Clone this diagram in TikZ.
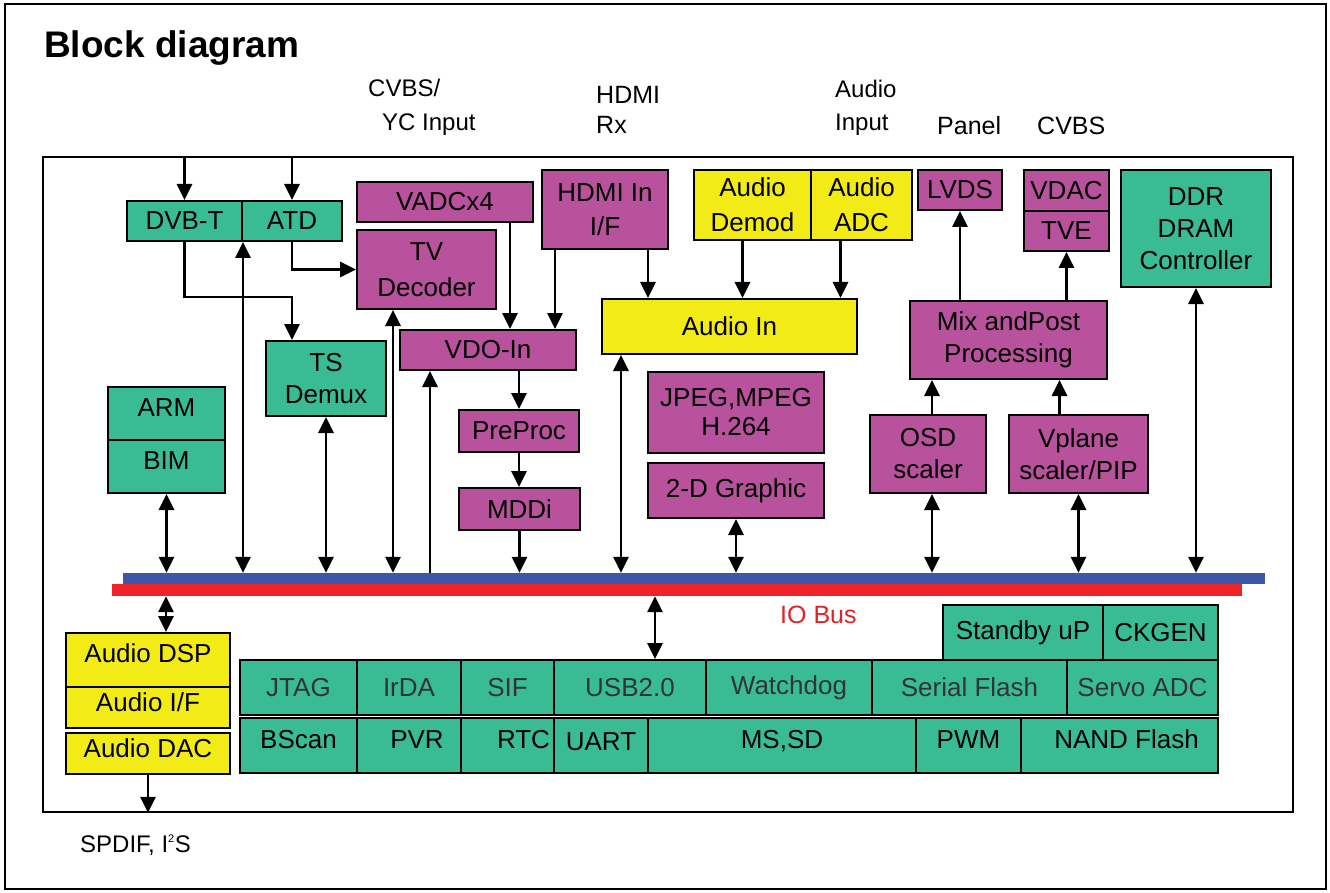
\documentclass[tikz,border=0pt]{standalone}
\usepackage{fontspec}
\setmainfont{Liberation Sans}
\usetikzlibrary{arrows.meta,positioning,calc}
\definecolor{tvgreen}{RGB}{57,188,148}
\definecolor{tvpurple}{RGB}{185,82,156}
\definecolor{tvyellow}{RGB}{242,235,22}
\definecolor{busblue}{RGB}{59,87,165}
\definecolor{busred}{RGB}{238,35,39}

\begin{document}
\begin{tikzpicture}[x=1pt, y=-1pt,
    blk/.style={draw, line width=2pt, inner sep=0pt, align=center,
                font=\fontsize{26}{32}\selectfont},
    sz/.style 2 args={minimum width=#1, minimum height=#2},
    gblk/.style={blk, fill=tvgreen},
    pblk/.style={blk, fill=tvpurple},
    yblk/.style={blk, fill=tvyellow},
    raised/.style={text height=19pt, text depth=14pt},
    grey/.style={text=black!80},
    lbl/.style={inner sep=0pt, anchor=base west, font=\fontsize{24}{28}\selectfont},
    arr/.style={-{Triangle[length=16pt, width=15pt]}, line width=2.8pt},
    biarr/.style={{Triangle[length=16pt, width=15pt]}-{Triangle[length=16pt, width=15pt]}, line width=2.8pt}
  ]
    \useasboundingbox (0,0) rectangle (1330,893);
    \draw[line width=1.5pt] (5,4) rectangle (1326,889);

    % Title and outside labels
    \node[inner sep=0pt, anchor=base west, font=\fontsize{37}{42}\selectfont\bfseries] (title) at (44,58) {Block diagram};
    \node[lbl] (cvbsin) at (368,97) {CVBS/};
    \node[lbl] (ycin) at (382,131) {YC Input};
    \node[lbl, font=\fontsize{25}{28}\selectfont] (hdmirx) at (596,104) {HDMI};
    \node[lbl, font=\fontsize{25}{28}\selectfont] (rx) at (596,134) {Rx};
    \node[lbl] (audin) at (835,98) {Audio};
    \node[lbl] (audin2) at (835,131) {Input};
    \node[lbl, font=\fontsize{25}{28}\selectfont] (panel) at (937,135) {Panel};
    \node[lbl, font=\fontsize{25}{28}\selectfont] (cvbsout) at (1037,135) {CVBS};
    \node[lbl, font=\fontsize{24}{28}\selectfont] (spdif) at (80,852) {SPDIF, I\textsuperscript{\fontsize{11}{11}\selectfont 2}S};

    % Chip outline
    \node[draw, line width=1.5pt, sz={1250}{655}] (chip) at (668,484.5) {};

    % Tuner side
    \node[gblk, sz={115}{40}] (dvbt) at (184.5,221) {DVB-T};
    \node[gblk, sz={100}{40}] (atd) at (292,221) {ATD};
    \node[gblk, sz={120}{75}] (tsdmx) at (326,378.5) {TS\\Demux};
    \node[gblk, raised, sz={117}{53}] (arm) at (166.5,413.5) {ARM};
    \node[gblk, raised, sz={117}{53}] (bim) at (166.5,466.5) {BIM};

    % Video input path
    \node[pblk, sz={176}{40}] (vadc) at (445,202) {VADCx4};
    \node[pblk, sz={139}{79}, font=\fontsize{26}{36}\selectfont] (tvdec) at (426.5,269.5) {TV\\Decoder};
    \node[pblk, sz={126}{79}, font=\fontsize{26}{34}\selectfont] (hdmi) at (605,209.5) {HDMI In\\I/F};
    \node[pblk, sz={176}{40}] (vdoin) at (488,350) {VDO-In};
    \node[pblk, sz={120}{42}] (preproc) at (519,431) {PreProc};
    \node[pblk, sz={121}{42}] (mddi) at (519.5,509) {MDDi};
    \node[pblk, sz={176}{81}, font=\fontsize{26}{29}\selectfont] (jpeg) at (736,412.5) {JPEG,MPEG\\H.264};
    \node[pblk, sz={176}{55}] (gfx) at (736,490.5) {2-D Graphic};

    % Audio input path
    \node[yblk, sz={117}{70}, font=\fontsize{26}{35}\selectfont] (ademod) at (752.5,205) {Audio\\Demod};
    \node[yblk, sz={101}{70}, font=\fontsize{26}{35}\selectfont] (aadc) at (861.5,205) {Audio\\ADC};
    \node[yblk, sz={255}{55}] (ain) at (729.5,326.5) {Audio In};

    % Display output path
    \node[pblk, sz={84}{40}] (lvds) at (960,190) {LVDS};
    \node[pblk, sz={85}{41}] (vdac) at (1066.5,190.5) {VDAC};
    \node[pblk, sz={85}{40}] (tve) at (1066.5,231) {TVE};
    \node[pblk, sz={197}{78}] (mix) at (1008.5,340) {Mix andPost\\Processing};
    \node[pblk, sz={116}{78}] (osd) at (928,454) {OSD\\scaler};
    \node[pblk, sz={139}{78}] (vplane) at (1078.5,454) {Vplane\\scaler/PIP};
    \node[gblk, sz={150}{117}] (ddr) at (1196,228.5) {DDR\\DRAM\\Controller};

    % Buses
    \node[fill=busblue, inner sep=0pt, sz={1142}{11}] (busb) at (694,578.5) {};
    \node[fill=busred, inner sep=0pt, sz={1130}{12}] (busr) at (677,590) {};
    \node[inner sep=0pt, anchor=base west, text=busred!95!black, font=\fontsize{25}{28}\selectfont] (iobus) at (780,623) {IO Bus};

    % Audio output
    \node[yblk, raised, sz={164}{54}] (adsp) at (148,660) {Audio DSP};
    \node[yblk, raised, sz={164}{41}, text depth=12pt] (aif) at (148,707.5) {Audio I/F};
    \node[yblk, raised, sz={164}{41}, text depth=12pt] (adac) at (148,753.5) {Audio DAC};

    % Peripherals
    \node[gblk, sz={160}{55}] (stby) at (1023,632.5) {Standby uP};
    \node[gblk, sz={115}{55}] (ckgen) at (1160.5,632.5) {CKGEN};
    \node[gblk, grey, sz={117}{55}] (jtag) at (298.5,687.5) {JTAG};
    \node[gblk, grey, sz={104}{55}] (irda) at (409,687.5) {IrDA};
    \node[gblk, grey, sz={93}{55}] (sif) at (507.5,687.5) {SIF};
    \node[gblk, grey, sz={152}{55}] (usb) at (630,687.5) {USB2.0};
    \node[gblk, grey, sz={166}{55}] (wdog) at (789,687.5) {Watchdog};
    \node[gblk, grey, sz={195}{55}] (sflash) at (969.5,687.5) {Serial Flash};
    \node[gblk, grey, sz={151}{55}] (servo) at (1142.5,687.5) {Servo ADC};
    \node[gblk, raised, sz={117}{55}] (bscan) at (298.5,745.5) {BScan};
    \node[gblk, raised, sz={104}{55}] (pvr) at (409,745.5) {\hspace{16pt}PVR};
    \node[gblk, raised, sz={93}{55}, text width=85pt, align=right] (rtc) at (507.5,745.5) {RTC};
    \node[gblk, raised, sz={94}{55}, text depth=10pt] (uart) at (601,745.5) {UART};
    \node[gblk, raised, sz={268}{55}] (mssd) at (782,745.5) {MS,SD};
    \node[gblk, raised, sz={105}{55}] (pwm) at (968.5,745.5) {PWM};
    \node[gblk, raised, sz={197}{55}] (nand) at (1119.5,745.5) {\hspace{14pt}NAND Flash};

    % Inputs into the chip
    \draw[arr] (dvbt.north |- chip.north) -- (dvbt.north);
    \draw[arr] (atd.north |- chip.north) -- (atd.north);
    \draw[arr] (dvbt.south) -- ++(0,55) -| ([xshift=-34pt]tsdmx.north);
    \draw[arr] (atd.south) |- (tvdec.west);
    \coordinate (vadcout) at ([xshift=65pt]vadc.south);
    \draw[arr] (vadcout) -- (vadcout |- vdoin.north);
    \coordinate (hdmiv) at ([xshift=-50pt]hdmi.south);
    \draw[arr] (hdmiv) -- (hdmiv |- vdoin.north);
    \coordinate (hdmia) at ([xshift=43pt]hdmi.south);
    \draw[arr] (hdmia) -- (hdmia |- ain.north);
    \coordinate (demodout) at ([xshift=-10pt]ademod.south);
    \draw[arr] (demodout) -- (demodout |- ain.north);
    \coordinate (adcout) at ([xshift=-21pt]aadc.south);
    \draw[arr] (adcout) -- (adcout |- ain.north);

    % Video chain
    \draw[arr] (preproc.north |- vdoin.south) -- (preproc.north);
    \draw[arr] (preproc.south) -- (preproc.south |- mddi.north);
    \draw[arr] (mddi.south) -- (mddi.south |- busb.north);

    % Output chain
    \draw[arr] (lvds.south |- mix.north) -- (lvds.south);
    \draw[arr] (tve.south |- mix.north) -- (tve.south);
    \coordinate (osdout) at ([xshift=4pt]osd.north);
    \draw[arr] (osdout) -- (osdout |- mix.south);
    \coordinate (vplout) at ([xshift=-19pt]vplane.north);
    \draw[arr] (vplout) -- (vplout |- mix.south);

    % Bus connections
    \draw[biarr] (bim.south) -- (bim.south |- busb.north);
    \draw[biarr] (dvbt.south east) -- (dvbt.south east |- busb.north);
    \draw[biarr] (tsdmx.south) -- (tsdmx.south |- busb.north);
    \coordinate (tvdbus) at ([xshift=-33.5pt]tvdec.south);
    \draw[biarr] (tvdbus) -- (tvdbus |- busb.north);
    \coordinate (vdobus) at ([xshift=-58pt]vdoin.south);
    \draw[arr] (vdobus |- busb.north) -- (vdobus);
    \coordinate (ainbus) at ([xshift=-108.5pt]ain.south);
    \draw[biarr] (ainbus) -- (ainbus |- busb.north);
    \draw[biarr] (gfx.south) -- (gfx.south |- busb.north);
    \draw[biarr] (osdout |- osd.south) -- (osdout |- busb.north);
    \draw[biarr] (vplane.south) -- (vplane.south |- busb.north);
    \draw[biarr] (ddr.south) -- (ddr.south |- busb.north);

    % Below the bus
    \coordinate (dspbus) at ([xshift=18pt]adsp.north);
    \draw[biarr] (dspbus |- busr.south) -- (dspbus);
    \coordinate (usbbus) at ([xshift=25pt]usb.north);
    \draw[biarr] (usbbus |- busr.south) -- (usbbus);
    \draw[arr] (adac.south) -- (adac.south |- chip.south);
  \end{tikzpicture}
\end{document}
